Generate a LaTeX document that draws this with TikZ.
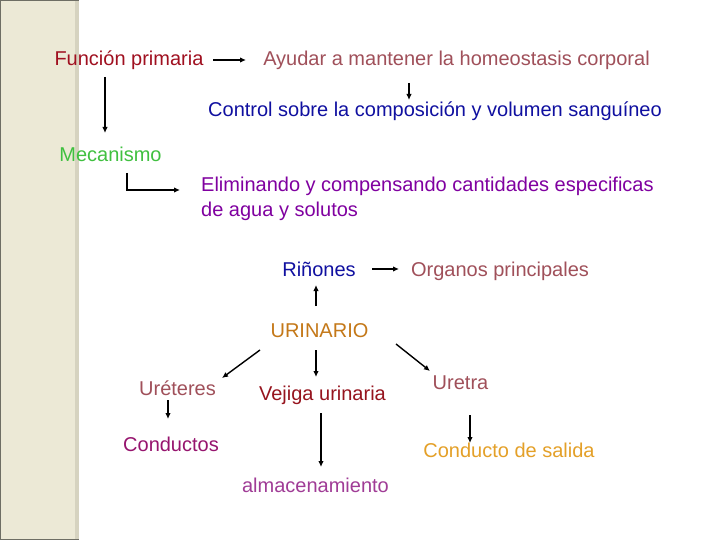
\documentclass[tikz,border=0pt]{standalone}
\usepackage{fontspec}
\setmainfont{Liberation Sans}
\usetikzlibrary{arrows.meta}
\definecolor{band}{RGB}{236,233,214}
\definecolor{bandedge}{RGB}{214,211,192}
\definecolor{bandline}{RGB}{110,110,100}
\definecolor{cfun}{RGB}{160,16,32}
\definecolor{crose}{RGB}{160,80,90}
\definecolor{cnavy}{RGB}{16,16,160}
\definecolor{cgreen}{RGB}{64,192,64}
\definecolor{cpurple}{RGB}{128,0,160}
\definecolor{corange}{RGB}{196,120,24}
\definecolor{cvej}{RGB}{150,20,30}
\definecolor{ccond}{RGB}{150,20,110}
\definecolor{csal}{RGB}{228,160,40}
\definecolor{calm}{RGB}{160,60,150}
\begin{document}
\begin{tikzpicture}[x=1pt,y=-1pt,
  lbl/.style={inner sep=0pt,anchor=base,font=\fontsize{20}{25}\selectfont},
  arr/.style={line width=1.4pt,-{Latex[length=6pt,width=5.5pt]}}]
\useasboundingbox (0,0) rectangle (720,540);
\fill[white] (0,0) rectangle (720,540);
% left band
\fill[band] (0,0) rectangle (79,540);
\fill[bandedge] (75,0) rectangle (79,540);
\draw[bandline,line width=1.5pt] (0,539.3) -- (79,539.3);
\draw[bandline,line width=1pt] (0.5,0) -- (0.5,540);
\draw[bandline,line width=1pt] (0,0.5) -- (79,0.5);

\node[lbl,text=cfun] (fun) at (129,66) {Función primaria};
\node[lbl,text=crose] (ayu) at (456.5,66) {Ayudar a mantener la homeostasis corporal};
\node[lbl,text=cnavy] (con) at (435,117) {Control sobre la composición y volumen sanguíneo};
\node[lbl,text=cgreen] (mec) at (110.5,162) {Mecanismo};
\node[lbl,text=cpurple,align=left,anchor=base west,font=\fontsize{20}{24.5}\selectfont] (eli) at (201,216) {Eliminando y compensando cantidades especificas\\de agua y solutos};
\node[lbl,text=cnavy] (rin) at (319,276) {Riñones};
\node[lbl,text=crose] (org) at (500,276) {Organos principales};
\node[lbl,text=corange] (uri) at (319.5,337) {URINARIO};
\node[lbl,text=crose] (ure) at (177.5,395) {Uréteres};
\node[lbl,text=cvej] (vej) at (322.5,400) {Vejiga urinaria};
\node[lbl,text=crose] (utr) at (460.5,389) {Uretra};
\node[lbl,text=ccond] (cdt) at (171,451) {Conductos};
\node[lbl,text=csal] (sal) at (509,457) {Conducto de salida};
\node[lbl,text=calm] (alm) at (315.5,492) {almacenamiento};

\coordinate (m1) at (127,173);
\coordinate (m2) at (127,190);
\coordinate (f1) at (213,60);
\coordinate (f2) at (246,60);
\coordinate (r1) at (372,269);
\coordinate (r2) at (399,269);

\draw[arr] (f1) -- (f2);
\draw[arr] (409,83) -- (409,100);
\draw[arr] (105,77) -- (105,133);
\draw[arr] (m1) -- (m2) -- (180,190);
\draw[arr] (r1) -- (r2);
\draw[arr] (316,306) -- (316,285);
\draw[arr] (260,350) -- (222,378);
\draw[arr] (316,350) -- (316,377);
\draw[arr] (396,344) -- (430,371);
\draw[arr] (168,400) -- (168,419);
\draw[arr] (321,413) -- (321,467);
\draw[arr] (470,415) -- (470,443);
\end{tikzpicture}
\end{document}
